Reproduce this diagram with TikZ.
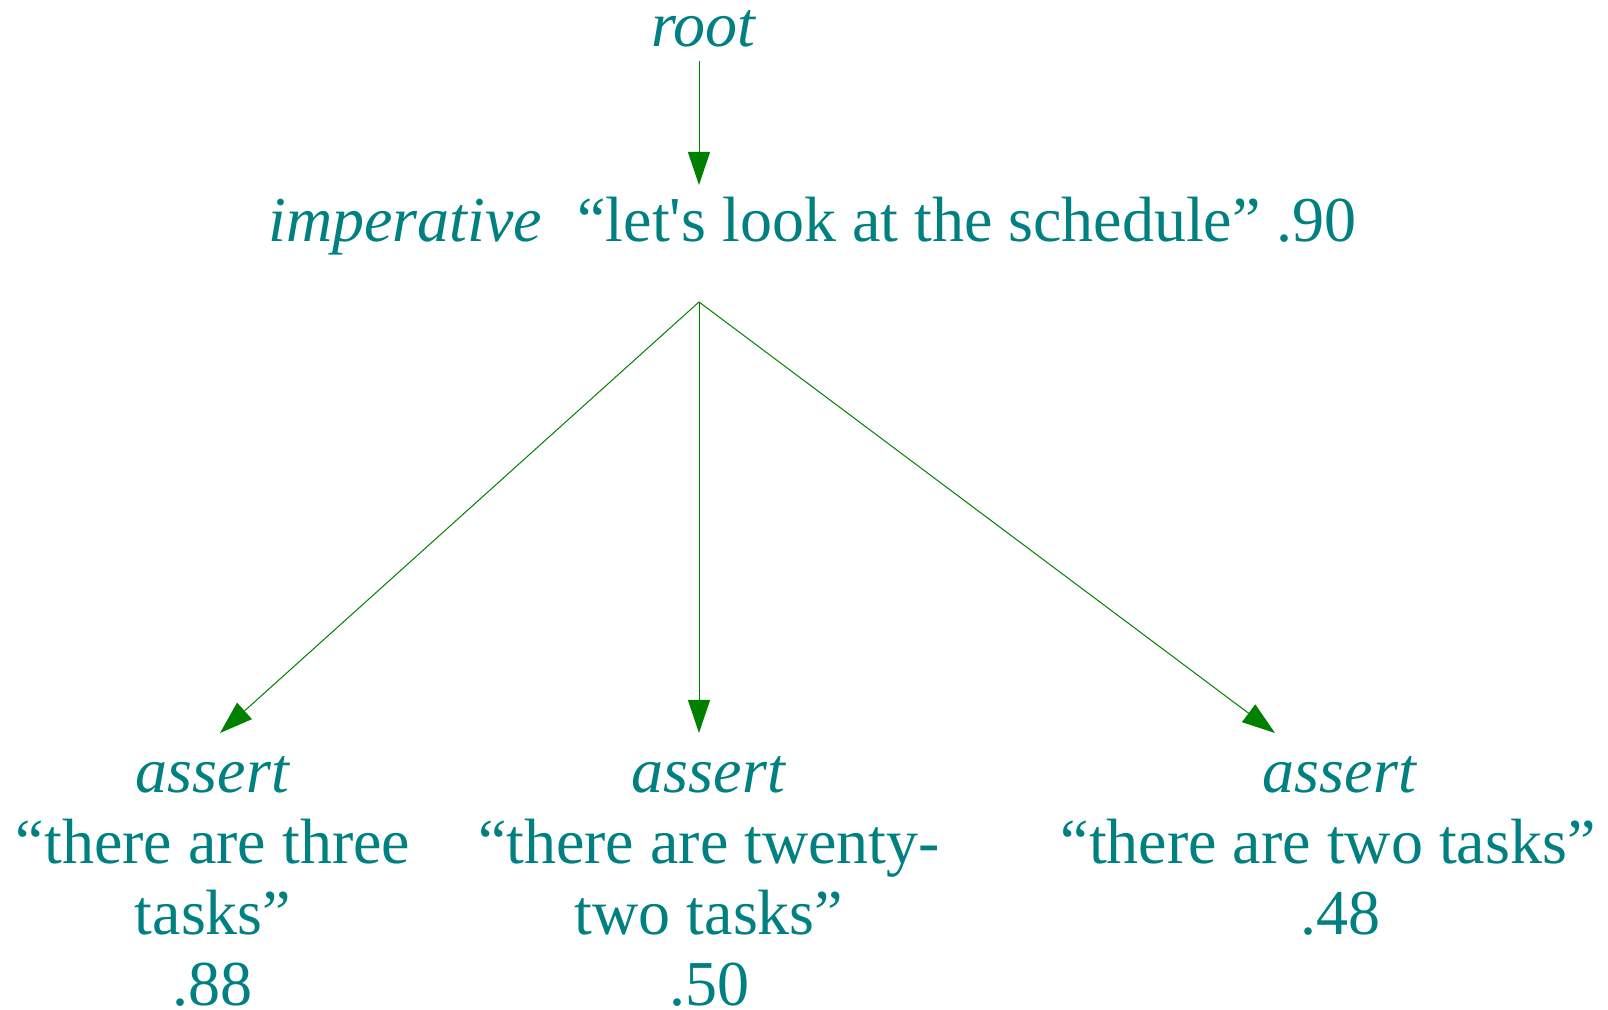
\documentclass[tikz,border=0pt]{standalone}
\usepackage{fontspec}
\setmainfont{Liberation Serif}
\usetikzlibrary{arrows.meta}
\definecolor{labelteal}{HTML}{008080}
\definecolor{edgegreen}{HTML}{008000}
\tikzset{
  lbl/.style={text=labelteal, inner sep=0pt, font=\fontsize{32}{35.6}\selectfont},
  edge/.style={draw=edgegreen, line width=0.5pt,
    -{Triangle[length=16.5pt,width=11pt]}},
}
% centred lines, anchored at the first baseline, no strut depth below the last line
\newcommand{\stack}[1]{\begin{tabular}[t]{@{}c@{}}#1\\[-10.7pt]\end{tabular}}
% straight typewriter apostrophe (no TeX quote mapping)
\newcommand{\sq}{{\addfontfeatures{Ligatures=TeXOff}'}}
\begin{document}
\begin{tikzpicture}[x=0.5pt,y=-0.5pt]
\useasboundingbox (0,0) rectangle (1608,1010);

% root of the tree
\node[lbl, anchor=base] (root) at (704,47) {\textit{root}};
\coordinate (rootfoot) at (699,61);

% top utterance
\node[lbl, anchor=base west] (mood0) at (268,242) {\textit{imperative}};
\node[lbl, anchor=base west] (utt0) at (577,242) {“let\sq s look at the schedule” .90};
\coordinate (in0) at (699,185);
\coordinate (out0) at (699,302);

% candidate continuations
\node[lbl, anchor=base] (alt1) at (213,792)
  {\stack{\textit{assert}\\“there are three\\tasks”\\.88}};
\node[lbl, anchor=base] (alt2) at (709,792)
  {\stack{\textit{assert}\\“there are twenty-\\two tasks”\\.50}};
\node[lbl, anchor=base] (alt3) at (1340,792)
  {\stack{\textit{assert}\\“there are two tasks”\kern12pt\\.48}};
\coordinate (in1) at (220,733);
\coordinate (in2) at (699,733);
\coordinate (in3) at (1275,733);

% connectors
\draw[edge] (rootfoot) -- (in0);
\draw[edge] (out0) -- (in1);
\draw[edge] (out0) -- (in2);
\draw[edge] (out0) -- (in3);
\end{tikzpicture}
\end{document}
